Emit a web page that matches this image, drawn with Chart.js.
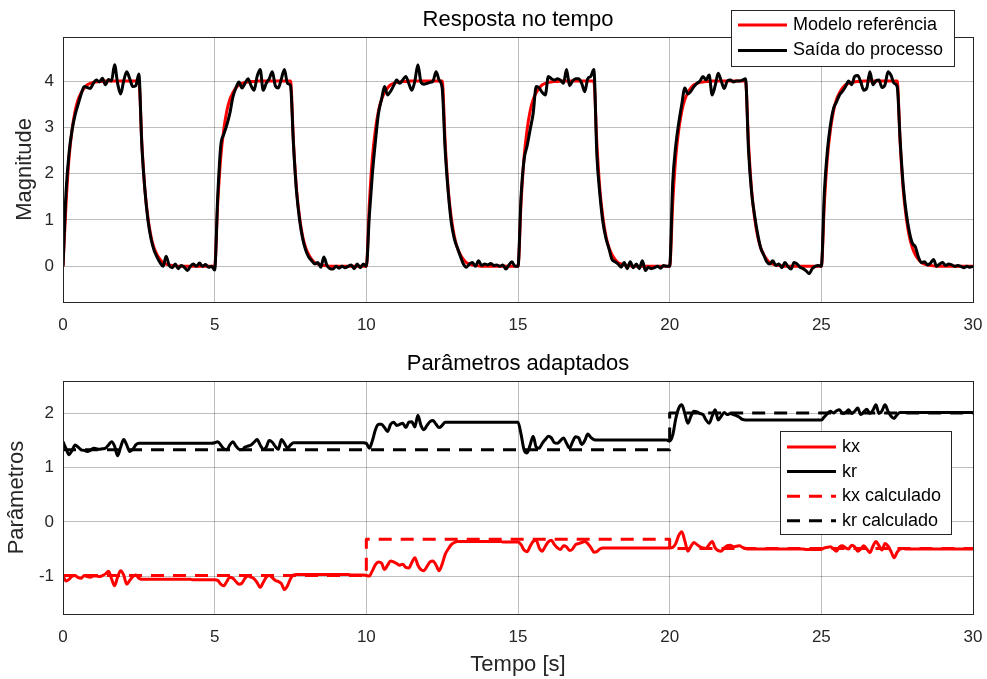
<!DOCTYPE html>
<html>
<head>
<meta charset="utf-8">
<script src="https://cdn.jsdelivr.net/npm/chart.js@4.4.0/dist/chart.umd.min.js"></script>
<style>
  body { margin: 0; background: #fff; }
  #wrap { position: relative; width: 987px; height: 679px; }
  #top { position: absolute; left: 0; top: 0; }
  #bottom { position: absolute; left: 0; top: 340px; }
</style>
</head>
<body>
<div id="wrap">
  <canvas id="top" width="987" height="340"></canvas>
  <canvas id="bottom" width="987" height="339"></canvas>
</div>
<script>
// sample times, 0 .. 30 s every 0.1 s
const tempo = Array.from({ length: 301 }, (_, i) => i / 10);

const xTicks = [0, 5, 10, 15, 20, 25, 30];
const yTicksTop = [0, 1, 2, 3, 4];
const yTicksBottom = [-1, 0, 1, 2];

// top plot: reference model and process output
const modelo = [
  0, 1.35, 2.35, 2.95, 3.35, 3.6, 3.75, 3.85, 3.92, 3.95,
  3.97, 3.98, 3.99, 3.99, 4, 4, 4, 4, 4, 4,
  4, 4, 4, 4, 4, 4, 2.65, 1.65, 1.05, 0.65,
  0.4, 0.25, 0.15, 0.08, 0.05, 0.03, 0.02, 0.01, 0, 0,
  0, 0, 0, 0, 0, 0, 0, 0, 0, 0,
  0, 1.35, 2.35, 2.95, 3.35, 3.6, 3.75, 3.85, 3.92, 3.95,
  3.97, 3.98, 3.99, 3.99, 4, 4, 4, 4, 4, 4,
  4, 4, 4, 4, 4, 4, 2.65, 1.65, 1.05, 0.65,
  0.4, 0.25, 0.15, 0.08, 0.05, 0.03, 0.02, 0.01, 0, 0,
  0, 0, 0, 0, 0, 0, 0, 0, 0, 0,
  0, 1.35, 2.35, 2.95, 3.35, 3.6, 3.75, 3.85, 3.92, 3.95,
  3.97, 3.98, 3.99, 3.99, 4, 4, 4, 4, 4, 4,
  4, 4, 4, 4, 4, 4, 2.65, 1.65, 1.05, 0.65,
  0.4, 0.25, 0.15, 0.08, 0.05, 0.03, 0.02, 0.01, 0, 0,
  0, 0, 0, 0, 0, 0, 0, 0, 0, 0,
  0, 1.35, 2.35, 2.95, 3.35, 3.6, 3.75, 3.85, 3.92, 3.95,
  3.97, 3.98, 3.99, 3.99, 4, 4, 4, 4, 4, 4,
  4, 4, 4, 4, 4, 4, 2.65, 1.65, 1.05, 0.65,
  0.4, 0.25, 0.15, 0.08, 0.05, 0.03, 0.02, 0.01, 0, 0,
  0, 0, 0, 0, 0, 0, 0, 0, 0, 0,
  0, 1.35, 2.35, 2.95, 3.35, 3.6, 3.75, 3.85, 3.92, 3.95,
  3.97, 3.98, 3.99, 3.99, 4, 4, 4, 4, 4, 4,
  4, 4, 4, 4, 4, 4, 2.65, 1.65, 1.05, 0.65,
  0.4, 0.25, 0.15, 0.08, 0.05, 0.03, 0.02, 0.01, 0, 0,
  0, 0, 0, 0, 0, 0, 0, 0, 0, 0,
  0, 1.35, 2.35, 2.95, 3.35, 3.6, 3.75, 3.85, 3.92, 3.95,
  3.97, 3.98, 3.99, 3.99, 4, 4, 4, 4, 4, 4,
  4, 4, 4, 4, 4, 4, 2.65, 1.65, 1.05, 0.65,
  0.4, 0.25, 0.15, 0.08, 0.05, 0.03, 0.02, 0.01, 0, 0,
  0, 0, 0, 0, 0, 0, 0, 0, 0, 0,
  0
];

const saida = [
  0, 1.6, 2.45, 2.95, 3.27, 3.5, 3.72, 3.88, 3.86, 3.84,
  3.95, 4.02, 3.98, 4.06, 3.92, 4.03, 4.0, 4.35, 3.95, 3.72,
  4.0, 4.2, 4.05, 3.88, 3.9, 4.15, 2.6, 1.65, 1.0, 0.6,
  0.35, 0.2, 0.08, 0.0, 0.22, 0.02, -0.03, 0.05, -0.05, 0.02,
  -0.02, -0.09, 0.0, 0.05, 0.0, 0.07, 0.0, 0.04, -0.02, 0.0,
  -0.08, 1.5, 2.6, 2.85, 3.05, 3.3, 3.65, 3.85, 3.98, 3.85,
  3.95, 4.05, 3.9, 3.8, 4.1, 4.25, 3.8, 3.95, 4.05, 4.2,
  3.9, 3.85, 4.05, 4.25, 3.95, 3.9, 2.6, 1.6, 1.0, 0.6,
  0.35, 0.2, 0.12, 0.05, 0.08, -0.02, 0.2, 0.02, -0.05, -0.06,
  0.0, -0.04, 0.0, -0.03, 0.0, 0.03, -0.05, 0.05, -0.03, 0.05,
  0.0, 1.1, 2.0, 2.7, 3.3, 3.6, 3.88, 3.7, 3.78, 3.9,
  4.02, 3.95, 4.02, 4.1, 3.95, 3.8, 4.0, 4.35, 3.98, 3.93,
  3.95, 3.97, 4.0, 4.2, 4.02, 3.85, 2.5, 1.6, 0.95, 0.6,
  0.4, 0.22, 0.05, -0.02, 0.05, 0.08, 0.0, 0.12, 0.02, 0.05,
  0.03, 0.06, 0.02, 0.03, 0.0, 0.03, -0.06, 0.03, 0.1, 0.0,
  0.0, 1.5, 2.3, 2.6, 2.95, 3.3, 3.88, 3.85, 3.75, 3.7,
  4.1, 4.05, 4.02, 4.05, 4.02, 3.95, 4.25, 3.9, 4.0, 4.05,
  4.05, 3.95, 3.77, 4.05, 4.1, 4.25, 2.4, 1.55, 0.95, 0.6,
  0.38, 0.15, 0.1, 0.05, -0.02, 0.08, -0.05, 0.1, -0.03, 0.05,
  -0.05, 0.12, -0.09, -0.02, -0.05, -0.03, 0.0, -0.04, 0.02, 0.0,
  0.0, 1.8, 2.6, 3.1, 3.5, 3.85, 3.72, 3.78, 3.88, 3.95,
  4.0, 4.1, 4.02, 4.13, 3.7, 3.9, 4.17, 4.0, 3.84, 4.0,
  4.02, 3.98, 4.0, 4.0, 4.02, 4.05, 2.5, 1.6, 1.1, 0.7,
  0.4, 0.25, 0.1, 0.05, 0.12, 0.02, 0.05, -0.03, 0.08, 0.0,
  -0.06, 0.08, 0.05, -0.02, -0.05, -0.1, -0.16, -0.05, 0.0, 0.02,
  0.0, 1.6, 2.5, 3.05, 3.4, 3.55, 3.7, 3.78, 3.88, 4.0,
  3.92, 4.1, 4.12, 3.98, 3.8, 3.85, 4.2, 3.92, 4.0, 4.02,
  3.86, 3.92, 4.2, 4.12, 3.95, 3.88, 2.7, 1.75, 1.15, 0.75,
  0.5, 0.42, 0.2, 0.08, 0.1, 0.03, 0.07, 0.15, 0.0, 0.05,
  0.08, 0.02, 0.05, 0.03, 0.0, 0.02, 0.0, -0.03, 0.0, -0.02,
  0.0
];

// bottom plot: adapted gains
const kx = [
  -0.98, -1.09, -1.06, -1.0, -0.99, -1.03, -1.04, -0.99, -1.01, -1.02,
  -1.0, -1.0, -1.01, -0.99, -0.96, -0.91, -1.05, -1.18, -1.02, -0.9,
  -0.98, -1.15, -1.08, -1.01, -0.98, -1.04, -1.06, -1.06, -1.06, -1.06,
  -1.06, -1.06, -1.06, -1.06, -1.06, -1.06, -1.06, -1.06, -1.06, -1.06,
  -1.06, -1.06, -1.06, -1.07, -1.07, -1.07, -1.07, -1.07, -1.07, -1.07,
  -1.07, -1.08, -1.15, -1.18, -1.1, -1.02, -1.04, -1.1, -1.15, -1.13,
  -1.04, -1.0, -1.02, -1.05, -1.12, -1.21, -1.12, -1.02, -0.99, -1.03,
  -1.08, -1.1, -1.14, -1.25, -1.18, -1.05, -0.98, -0.97, -0.97, -0.97,
  -0.97, -0.97, -0.97, -0.97, -0.97, -0.97, -0.97, -0.97, -0.97, -0.97,
  -0.97, -0.97, -0.97, -0.97, -0.97, -0.98, -0.98, -0.98, -0.98, -0.98,
  -0.99, -1.0, -0.9, -0.79, -0.74, -0.76, -0.88, -0.8, -0.72, -0.74,
  -0.77, -0.8, -0.78, -0.84, -0.85, -0.75, -0.66, -0.8, -0.88, -0.9,
  -0.82, -0.74, -0.72, -0.8, -0.9, -0.78, -0.6, -0.5, -0.42, -0.38,
  -0.36, -0.36, -0.36, -0.36, -0.36, -0.36, -0.36, -0.36, -0.36, -0.36,
  -0.36, -0.36, -0.36, -0.36, -0.36, -0.37, -0.37, -0.37, -0.37, -0.37,
  -0.37, -0.42, -0.52, -0.55, -0.45, -0.36, -0.34, -0.48, -0.54, -0.45,
  -0.37, -0.34, -0.42, -0.48, -0.51, -0.44, -0.46, -0.53, -0.5, -0.42,
  -0.4, -0.38, -0.36, -0.4, -0.47, -0.56, -0.55, -0.5, -0.48, -0.48,
  -0.48, -0.48, -0.48, -0.48, -0.48, -0.48, -0.48, -0.48, -0.48, -0.48,
  -0.48, -0.48, -0.48, -0.48, -0.48, -0.48, -0.48, -0.48, -0.48, -0.48,
  -0.48, -0.47, -0.4, -0.25, -0.18, -0.35, -0.54, -0.45, -0.38, -0.42,
  -0.46, -0.48, -0.49, -0.42, -0.36, -0.48, -0.53, -0.54, -0.48, -0.44,
  -0.43, -0.46, -0.45, -0.44, -0.47, -0.49, -0.5, -0.5, -0.5, -0.5,
  -0.5, -0.5, -0.5, -0.5, -0.5, -0.5, -0.5, -0.5, -0.5, -0.5,
  -0.5, -0.5, -0.5, -0.5, -0.5, -0.51, -0.51, -0.51, -0.51, -0.51,
  -0.51, -0.48, -0.47, -0.46, -0.5, -0.54, -0.46, -0.44, -0.48, -0.5,
  -0.43, -0.46, -0.54, -0.5, -0.44, -0.5, -0.57, -0.45, -0.36, -0.44,
  -0.52, -0.4, -0.45, -0.55, -0.66, -0.56, -0.5, -0.49, -0.5, -0.5,
  -0.5, -0.5, -0.5, -0.5, -0.5, -0.5, -0.5, -0.5, -0.5, -0.5,
  -0.5, -0.5, -0.5, -0.5, -0.5, -0.5, -0.5, -0.5, -0.5, -0.5,
  -0.5
];

const kr = [
  1.48, 1.35, 1.24, 1.32, 1.42, 1.38, 1.33, 1.32, 1.3, 1.32,
  1.36, 1.35, 1.34, 1.35, 1.36, 1.42, 1.48, 1.4, 1.22, 1.38,
  1.52, 1.42, 1.3, 1.34, 1.42, 1.45, 1.45, 1.45, 1.45, 1.45,
  1.45, 1.45, 1.45, 1.45, 1.45, 1.45, 1.45, 1.45, 1.45, 1.45,
  1.45, 1.45, 1.45, 1.45, 1.45, 1.45, 1.45, 1.45, 1.45, 1.45,
  1.46, 1.48, 1.42, 1.35, 1.33, 1.42, 1.48, 1.4, 1.34, 1.33,
  1.38, 1.4, 1.42, 1.47, 1.52, 1.42, 1.34, 1.38, 1.5, 1.47,
  1.39, 1.34, 1.52, 1.45, 1.36, 1.42, 1.46, 1.46, 1.46, 1.46,
  1.46, 1.46, 1.46, 1.46, 1.46, 1.46, 1.46, 1.46, 1.46, 1.46,
  1.46, 1.46, 1.46, 1.46, 1.46, 1.46, 1.46, 1.46, 1.46, 1.46,
  1.45, 1.36, 1.5, 1.7, 1.8, 1.8, 1.74, 1.67, 1.8, 1.84,
  1.78, 1.8, 1.82, 1.74, 1.84, 1.85, 1.75, 1.97, 1.78, 1.7,
  1.78, 1.85, 1.87, 1.8, 1.74, 1.78, 1.84, 1.84, 1.84, 1.84,
  1.84, 1.84, 1.84, 1.84, 1.84, 1.84, 1.84, 1.84, 1.84, 1.84,
  1.84, 1.84, 1.84, 1.84, 1.84, 1.84, 1.84, 1.84, 1.84, 1.84,
  1.84, 1.62, 1.33, 1.27, 1.42, 1.58, 1.38, 1.36, 1.45, 1.52,
  1.58, 1.55, 1.46, 1.45, 1.5, 1.55, 1.45, 1.36, 1.48, 1.57,
  1.55, 1.43, 1.5, 1.62, 1.56, 1.52, 1.51, 1.51, 1.51, 1.51,
  1.51, 1.51, 1.51, 1.51, 1.51, 1.51, 1.51, 1.51, 1.51, 1.51,
  1.51, 1.51, 1.51, 1.51, 1.51, 1.51, 1.51, 1.51, 1.51, 1.51,
  1.49, 1.6, 1.9, 2.1, 2.16, 2.0, 1.82, 1.95, 2.04, 2.03,
  2.0, 1.98, 1.88, 1.82, 1.95, 2.07, 1.88, 1.95, 2.02, 1.98,
  2.0, 1.98, 1.96, 1.93, 1.89, 1.88, 1.88, 1.88, 1.88, 1.88,
  1.88, 1.88, 1.88, 1.88, 1.88, 1.88, 1.88, 1.88, 1.88, 1.88,
  1.88, 1.88, 1.88, 1.88, 1.88, 1.88, 1.88, 1.88, 1.88, 1.88,
  1.88, 1.94, 2.0, 2.04, 2.01, 2.05, 2.07, 2.0, 2.02, 2.07,
  2.0, 2.04, 2.1, 1.98, 2.03, 2.08, 2.0, 2.06, 2.16, 2.0,
  2.05, 2.16, 2.04, 1.95, 1.91, 1.98, 2.02, 2.02, 2.02, 2.02,
  2.02, 2.02, 2.02, 2.02, 2.02, 2.02, 2.02, 2.02, 2.02, 2.02,
  2.02, 2.02, 2.02, 2.02, 2.02, 2.02, 2.02, 2.02, 2.02, 2.02,
  2.02
];

// calculated (ideal) gains, piecewise constant
const kxCalcT = [0, 10, 10, 20, 20, 30];
const kxCalcV = [-0.99, -0.99, -0.32, -0.32, -0.49, -0.49];
const krCalcT = [0, 20, 20, 30];
const krCalcV = [1.33, 1.33, 2.01, 2.01];

const FONT = '"Liberation Sans", Arial, Helvetica, sans-serif';
const AXIS_COLOR = '#262626';
const GRID_COLOR = 'rgba(38,38,38,0.3)';
const RED = 'rgb(255,0,0)';
const BLACK = '#000';

function pairs(xs, ys) {
    return xs.map((x, i) => ({ x: x, y: ys[i] }));
}

// box, titles, axis labels and legend drawn the MATLAB way
const matlabAxes = {
    id: 'matlabAxes',
    afterDraw(chart, args, opts) {
        const ctx = chart.ctx;
        const a = chart.chartArea;
        ctx.save();
        ctx.strokeStyle = AXIS_COLOR;
        ctx.lineWidth = 1;
        ctx.strokeRect(Math.round(a.left) + 0.5, Math.round(a.top) + 0.5,
            Math.round(a.right - a.left), Math.round(a.bottom - a.top));

        ctx.textAlign = 'center';
        ctx.textBaseline = 'middle';
        ctx.font = '22px ' + FONT;
        ctx.fillStyle = BLACK;
        ctx.fillText(opts.title, (a.left + a.right) / 2, opts.titleY);
        ctx.fillStyle = AXIS_COLOR;
        if (opts.xLabel) {
            ctx.fillText(opts.xLabel, (a.left + a.right) / 2, opts.xLabelY);
        }
        ctx.save();
        ctx.translate(opts.yLabelX, (a.top + a.bottom) / 2);
        ctx.rotate(-Math.PI / 2);
        ctx.fillText(opts.yLabel, 0, 0);
        ctx.restore();

        const lg = opts.legend;
        ctx.fillStyle = '#fff';
        ctx.fillRect(lg.x, lg.y, lg.w, lg.h);
        ctx.strokeStyle = AXIS_COLOR;
        ctx.lineWidth = 1;
        ctx.strokeRect(lg.x + 0.5, lg.y + 0.5, lg.w, lg.h);
        ctx.font = '18px ' + FONT;
        ctx.textAlign = 'left';
        lg.items.forEach((idx, k) => {
            const ds = chart.data.datasets[idx];
            const y = lg.y + lg.first + k * lg.step;
            ctx.strokeStyle = ds.borderColor;
            ctx.lineWidth = ds.borderWidth;
            ctx.setLineDash(ds.borderDash || []);
            ctx.beginPath();
            ctx.moveTo(lg.x + 7, y);
            ctx.lineTo(lg.x + 56, y);
            ctx.stroke();
            ctx.setLineDash([]);
            ctx.fillStyle = BLACK;
            ctx.fillText(ds.label, lg.x + 62, y);
        });
        ctx.restore();
    }
};

function makeChart(id, datasets, cfg) {
    return new Chart(document.getElementById(id), {
        type: 'line',
        data: { datasets: datasets },
        options: {
            responsive: false,
            animation: false,
            events: [],
            layout: { padding: { top: cfg.padTop, right: 14, left: 0, bottom: 0 } },
            elements: {
                point: { radius: 0 },
                line: { tension: 0, borderJoinStyle: 'round' }
            },
            plugins: {
                legend: { display: false },
                tooltip: { enabled: false },
                title: { display: false },
                matlabAxes: cfg.axes
            },
            scales: {
                x: {
                    type: 'linear',
                    min: 0,
                    max: 30,
                    afterBuildTicks: s => { s.ticks = xTicks.map(v => ({ value: v })); },
                    afterFit: s => {
                        s.height = cfg.xHeight;
                        s.paddingLeft = 0;
                        s.paddingRight = 0;
                    },
                    grid: { color: GRID_COLOR, drawTicks: false },
                    border: { display: false },
                    ticks: {
                        padding: 13,
                        autoSkip: false,
                        maxRotation: 0,
                        color: AXIS_COLOR,
                        font: { family: FONT, size: 17 },
                        callback: v => String(v)
                    }
                },
                y: {
                    type: 'linear',
                    min: cfg.yMin,
                    max: cfg.yMax,
                    afterBuildTicks: s => { s.ticks = cfg.yTicks.map(v => ({ value: v })); },
                    afterFit: s => {
                        s.width = 63;
                        s.paddingTop = 0;
                        s.paddingBottom = 0;
                    },
                    grid: { color: GRID_COLOR, drawTicks: false },
                    border: { display: false },
                    ticks: {
                        padding: 9,
                        color: AXIS_COLOR,
                        font: { family: FONT, size: 17 },
                        callback: v => String(v)
                    }
                }
            }
        },
        plugins: [matlabAxes]
    });
}

// solid traces are smoothed between samples, like the dense original signal
const smooth = { cubicInterpolationMode: 'monotone' };

makeChart('top', [
    { label: 'Modelo referência', data: pairs(tempo, modelo), borderColor: RED, borderWidth: 3, order: 1, ...smooth },
    { label: 'Saída do processo', data: pairs(tempo, saida), borderColor: BLACK, borderWidth: 3, order: 0, ...smooth }
], {
    padTop: 37,
    xHeight: 38,
    yMin: -0.77,
    yMax: 4.95,
    yTicks: yTicksTop,
    axes: {
        title: 'Resposta no tempo',
        titleY: 20,
        yLabel: 'Magnitude',
        yLabelX: 25,
        legend: { x: 731, y: 10, w: 223, h: 56, first: 15, step: 25.5, items: [0, 1] }
    }
});

makeChart('bottom', [
    { label: 'kx', data: pairs(tempo, kx), borderColor: RED, borderWidth: 3, order: 3, ...smooth },
    { label: 'kr', data: pairs(tempo, kr), borderColor: BLACK, borderWidth: 3, order: 2, ...smooth },
    { label: 'kx calculado', data: pairs(kxCalcT, kxCalcV), borderColor: RED, borderWidth: 3, borderDash: [13, 9], order: 1 },
    { label: 'kr calculado', data: pairs(krCalcT, krCalcV), borderColor: BLACK, borderWidth: 3, borderDash: [13, 9], order: 0 }
], {
    padTop: 41,
    xHeight: 65,
    yMin: -1.7,
    yMax: 2.6,
    yTicks: yTicksBottom,
    axes: {
        title: 'Parâmetros adaptados',
        titleY: 24,
        xLabel: 'Tempo [s]',
        xLabelY: 325,
        yLabel: 'Parâmetros',
        yLabelX: 17,
        legend: { x: 780, y: 91, w: 171, h: 103, first: 16, step: 24.6, items: [0, 1, 2, 3] }
    }
});
</script>
</body>
</html>
